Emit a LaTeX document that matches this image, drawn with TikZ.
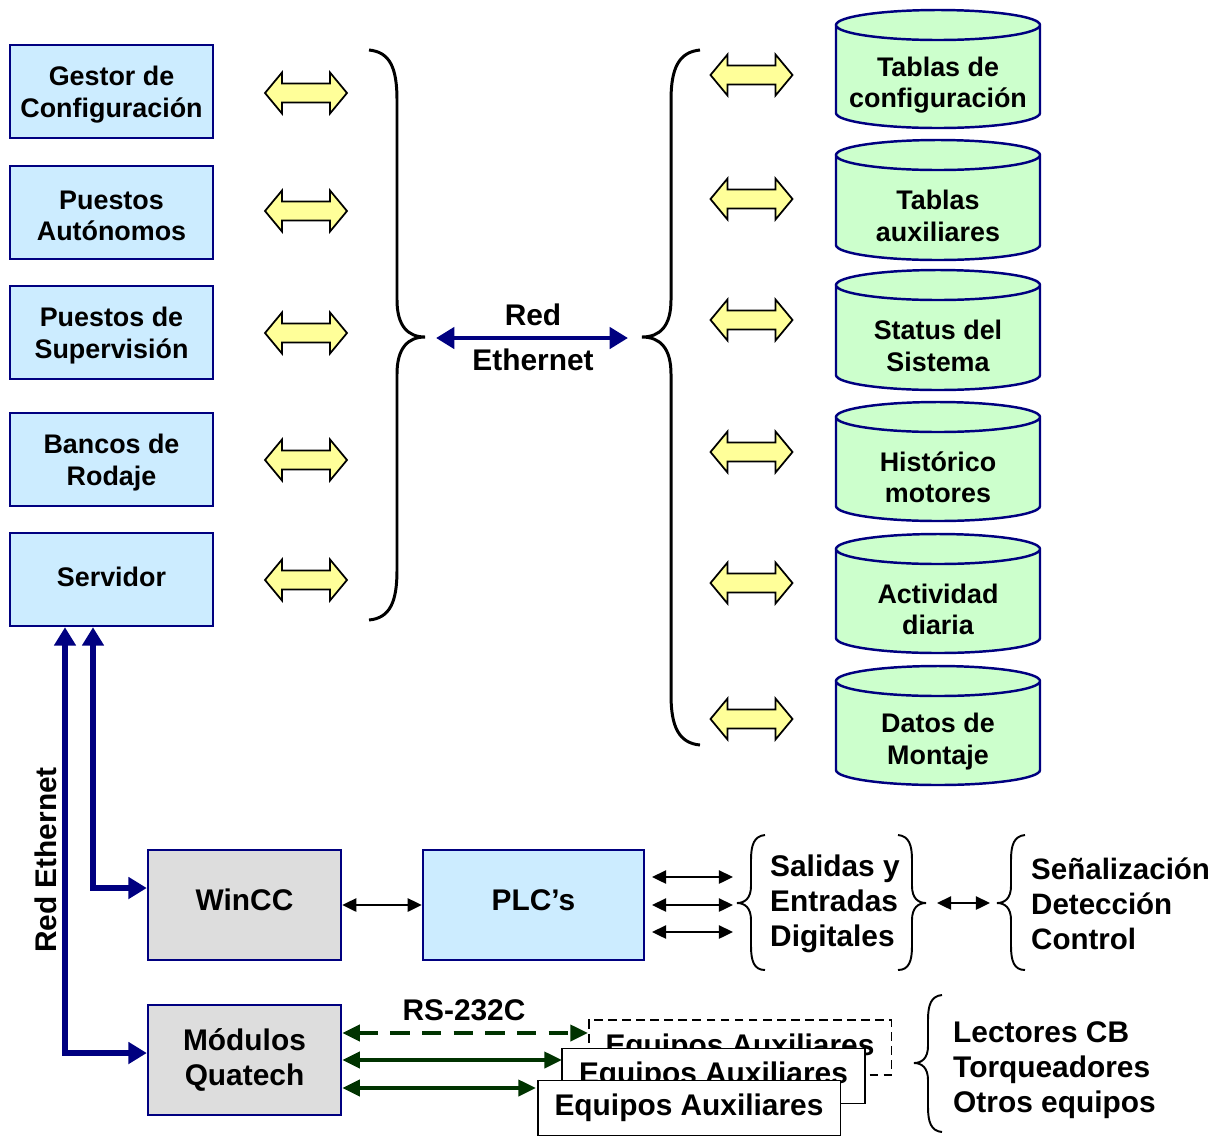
\documentclass[tikz,border=0pt]{standalone}
\usepackage{fontspec}
\setmainfont{Liberation Sans}
\usetikzlibrary{arrows.meta}
\definecolor{navy}{HTML}{000080}
\definecolor{boxblue}{HTML}{CCECFF}
\definecolor{cylgreen}{HTML}{CCFFCC}
\definecolor{boxgray}{HTML}{DDDDDD}
\definecolor{yarr}{HTML}{FFFF99}
\definecolor{dgreen}{HTML}{003300}
\newcommand\dbcyl[4]{%
  \path[fill=cylgreen] (836,#2+15) -- (836,#3-15) .. controls (836,#3-6.72) and (881.7,#3) .. (938,#3) .. controls (994.3,#3) and (1040,#3-6.72) .. (1040,#3-15) -- (1040,#2+15) .. controls (1040,#2+6.72) and (994.3,#2) .. (938,#2) .. controls (881.7,#2) and (836,#2+6.72) .. (836,#2+15) -- cycle;
  \draw[cylline] (836,#2+15) -- (836,#3-15) .. controls (836,#3-6.72) and (881.7,#3) .. (938,#3) .. controls (994.3,#3) and (1040,#3-6.72) .. (1040,#3-15) -- (1040,#2+15) .. controls (1040,#2+6.72) and (994.3,#2) .. (938,#2) .. controls (881.7,#2) and (836,#2+6.72) .. (836,#2+15) .. controls (836,#2+23.28) and (881.7,#2+30) .. (938,#2+30) .. controls (994.3,#2+30) and (1040,#2+23.28) .. (1040,#2+15);
  \node[fsA, align=center] (#1) at (938,{(#2+#3)/2+16}) {#4};
}
\newcommand\fstrut{\rule{0pt}{14.5pt}}
\begin{document}
\begin{tikzpicture}[x=0.02cm,y=-0.02cm,
  fsA/.style={font=\bfseries\fontsize{15.3}{17.8}\selectfont},
  fsB/.style={font=\bfseries\fontsize{17}{19.8}\selectfont},
  cylline/.style={draw=navy, line width=1.4pt},
  topbox/.style={draw=navy, line width=1.4pt, fill=boxblue, minimum width=4.06cm, minimum height=1.86cm, inner sep=0pt, align=center, fsA},
  lowbox/.style={draw=navy, line width=1.4pt, minimum height=2.2cm, inner sep=0pt, align=center, fsB},
  eqbox/.style={draw=black, line width=1.1pt, fill=white, minimum width=6.06cm, minimum height=1.1cm, inner sep=0pt, fsB},
  netarr/.style={draw=navy, line width=3.2pt, {Triangle[length=10.5pt,width=12pt]}-{Triangle[length=10.5pt,width=12pt]}},
  blkarr/.style={draw=black, line width=1.1pt, {Triangle[length=8pt,width=7.5pt]}-{Triangle[length=8pt,width=7.5pt]}},
  garr/.style={draw=dgreen, line width=2.3pt, {Triangle[length=10pt,width=9pt]}-{Triangle[length=10pt,width=9pt]}},
  bigbrace/.style={draw=black, line width=1.7pt},
  smallbrace/.style={draw=black, line width=1.1pt},
  yarrow/.pic={\draw[fill=yarr, line width=1pt, line join=miter] (-41,0) -- (-24,-20.5) -- (-24,-9.5) -- (24,-9.5) -- (24,-20.5) -- (41,0) -- (24,20.5) -- (24,9.5) -- (-24,9.5) -- (-24,20.5) -- cycle;}
]
\useasboundingbox (0,0) rectangle (1217,1137);

% left boxes
\node[topbox] (gestor) at (111.5,91.5) {\fstrut Gestor de\\Configuración};
\node[topbox] (auton) at (111.5,212.5) {\fstrut Puestos\\Autónomos};
\node[topbox] (superv) at (111.5,332.5) {\fstrut Puestos de\\Supervisión};
\node[topbox] (bancos) at (111.5,459.5) {\fstrut Bancos de\\Rodaje};
\node[topbox, text depth=3.4pt] (serv) at (111.5,579.5) {Servidor};

% yellow arrows left
\pic at (306,93) {yarrow};
\pic at (306,211) {yarrow};
\pic at (306,333) {yarrow};
\pic at (306,460) {yarrow};
\pic at (306,580) {yarrow};

% yellow arrows right
\pic at (751.5,75) {yarrow};
\pic at (751.5,199) {yarrow};
\pic at (751.5,320) {yarrow};
\pic at (751.5,452) {yarrow};
\pic at (751.5,583) {yarrow};
\pic at (751.5,719) {yarrow};

% big braces
\draw[bigbrace] (369,50) .. controls (390,52) and (397,68) .. (397,100) -- (397,300) .. controls (397,326) and (408,337) .. (425,337) .. controls (408,337) and (397,348) .. (397,374) -- (397,570) .. controls (397,602) and (390,618) .. (369,620);
\draw[bigbrace] (700,50) .. controls (679,52) and (671,68) .. (671,100) -- (671,300) .. controls (671,326) and (660,337) .. (642,337) .. controls (660,337) and (671,348) .. (671,374) -- (671,695) .. controls (671,727) and (679,743) .. (700,745);

% middle network arrow
\coordinate (ml) at (436,338);
\coordinate (mr) at (628,338);
\draw[netarr, line width=2.6pt] (ml) -- (mr);
\node[fsB] (red) at (533,315) {Red};
\node[fsB] (eth) at (533,360) {Ethernet};

% cylinders
\dbcyl{cyl1}{10}{128}{Tablas de\\configuración}
\dbcyl{cyl2}{140}{260}{Tablas\\auxiliares}
\dbcyl{cyl3}{270}{390}{Status del\\Sistema}
\dbcyl{cyl4}{402}{521}{Histórico\\motores}
\dbcyl{cyl5}{534}{653}{Actividad\\diaria}
\dbcyl{cyl6}{666}{785}{Datos de\\Montaje}

% lower boxes
\node[lowbox, fill=boxgray, minimum width=3.86cm, text depth=6pt] (wincc) at (244.5,905) {WinCC};
\node[lowbox, fill=boxblue, minimum width=4.42cm, text depth=6pt] (plc) at (533.5,905) {PLC’s};
\node[lowbox, fill=boxgray, minimum width=3.86cm] (quat) at (244.5,1060) {Módulos\\Quatech};

% ethernet lines from servidor
\coordinate (c1) at (93,888);
\coordinate (c2) at (65,1053);
\draw[netarr] (serv.south -| c1) -- (c1) -- (c1 -| wincc.west);
\draw[netarr] (serv.south -| c2) -- (c2) -- (c2 -| quat.west);
\node[fsB, rotate=90] (rete) at (46,860) {Red Ethernet};

% WinCC - PLC
\draw[blkarr] (wincc) -- (plc);

% PLC outputs
\coordinate (p1a) at (652,877); \coordinate (p1b) at (733,877);
\coordinate (p2a) at (652,905); \coordinate (p2b) at (733,905);
\coordinate (p3a) at (652,932); \coordinate (p3b) at (733,932);
\draw[blkarr] (p1a) -- (p1b);
\draw[blkarr] (p2a) -- (p2b);
\draw[blkarr] (p3a) -- (p3b);

% small braces
\draw[smallbrace] (765,835) .. controls (754,836) and (751,845) .. (751,860) -- (751,886) .. controls (751,898) and (745,903) .. (737,903) .. controls (745,903) and (751,908) .. (751,920) -- (751,946) .. controls (751,961) and (754,970) .. (765,970);
\draw[smallbrace] (898,835) .. controls (909,836) and (912,845) .. (912,860) -- (912,886) .. controls (912,898) and (918,903) .. (926,903) .. controls (918,903) and (912,908) .. (912,920) -- (912,946) .. controls (912,961) and (909,970) .. (898,970);
\draw[smallbrace] (1025,835) .. controls (1014,836) and (1011,845) .. (1011,860) -- (1011,886) .. controls (1011,898) and (1005,903) .. (997,903) .. controls (1005,903) and (1011,908) .. (1011,920) -- (1011,946) .. controls (1011,961) and (1014,970) .. (1025,970);

\node[fsB, align=left, anchor=west] (sal) at (764,904) {Salidas y\\Entradas\\Digitales};
\coordinate (sa) at (937,903); \coordinate (sb) at (990,903);
\draw[blkarr] (sa) -- (sb);
\node[fsB, align=left, anchor=west, font=\bfseries\fontsize{16.8}{19.8}\selectfont] (senal) at (1025,904) {Señalización\\Detección\\Control};

% Equipos auxiliares
\node[eqbox, dashed, dash pattern=on 5pt off 3pt] (eq1) at (740,1047.5) {Equipos Auxiliares};
\node[eqbox] (eq2) at (713.5,1076) {Equipos Auxiliares};
\node[eqbox] (eq3) at (689,1108) {Equipos Auxiliares};

\coordinate (g1) at (588,1033);
\coordinate (g2) at (562,1060);
\coordinate (g3) at (536,1088);
\draw[garr, dash pattern=on 11pt off 7pt] (g1 -| quat.east) -- (g1);
\draw[garr] (g2 -| quat.east) -- (g2);
\draw[garr] (g3 -| quat.east) -- (g3);
\node[fsB] (rs) at (464,1010) {RS-232C};

\draw[smallbrace] (942,995) .. controls (931,996) and (928,1005) .. (928,1020) -- (928,1046) .. controls (928,1058) and (922,1063) .. (914,1063) .. controls (922,1063) and (928,1068) .. (928,1080) -- (928,1107) .. controls (928,1122) and (931,1131) .. (942,1132);
\node[fsB, align=left, anchor=west] (lect) at (947,1070) {Lectores CB\\Torqueadores\\Otros equipos};
\end{tikzpicture}
\end{document}
